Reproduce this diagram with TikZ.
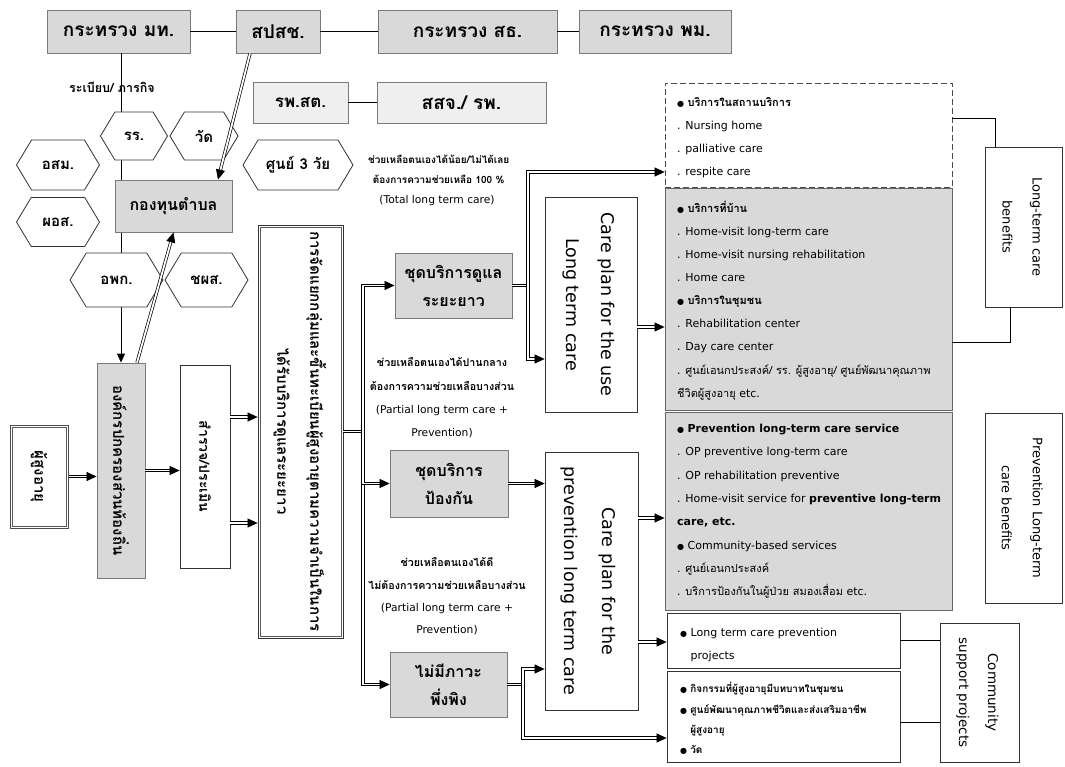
\documentclass[tikz,border=0pt]{standalone}
\usepackage{fontspec}
\usepackage{graphicx}
\setmainfont{DejaVu Sans}
\newfontfamily\thaifont[Script=Thai]{Loma}
\usetikzlibrary{arrows.meta,shapes.symbols,calc}
\definecolor{boxgray}{HTML}{D9D9D9}
\definecolor{boxlight}{HTML}{EFEFEF}
\definecolor{edgegray}{HTML}{7A7A7A}
\newcommand\fsz[2]{\fontsize{#1}{#2}\selectfont}
\newcommand\dotb{{\fontsize{8}{8}\selectfont ●}}
\newcommand\tb{\thaifont\bfseries}

\begin{document}
\begin{tikzpicture}[x=1pt,y=-1pt,
  sz/.style 2 args={minimum width=#1pt, minimum height=#2pt},
  box/.style={draw=edgegray, line width=0.9pt, inner sep=0pt, align=center},
  gbox/.style={box, fill=boxgray},
  lbox/.style={box, fill=boxlight},
  wbox/.style={draw=black!80, line width=0.8pt, fill=white, inner sep=0pt, align=center},
  inframe/.style={draw=gray!70!black, line width=0.8pt},
  hex/.style={signal, signal to=west and east, signal pointer angle=118,
    draw=black!80, line width=0.8pt, fill=white, inner sep=0pt,
    font=\tb\fsz{15}{18}},
  link/.style={draw=black, line width=0.9pt},
  dline/.style={draw=black, line width=0.7pt, double=white, double distance=1.8pt},
  darrow/.style={dline, -{Triangle[length=10pt,width=9pt]}},
  sarrow/.style={link, -{Triangle[length=9pt,width=8pt]}},
  list/.style={anchor=west, align=left, inner sep=0pt},
  note/.style={align=center, inner sep=0pt}
]
\useasboundingbox (0,0) rectangle (1065,767);
\fill[white] (0,0) rectangle (1065,767);

% ---- ministries and agencies ----
\node[gbox, sz={143}{43}, font=\tb\fsz{19}{22}] (mt) at (118.5,31.5) {กระทรวง มท.};
\node[gbox, sz={84}{43}, font=\tb\fsz{19}{22}] (nhso) at (278,31.5) {สปสช.};
\node[gbox, sz={179}{43}, font=\tb\fsz{19}{22}] (moph) at (467.5,31.5) {กระทรวง สธ.};
\node[gbox, sz={152}{43}, font=\tb\fsz{19}{22}] (msdhs) at (655,31.5) {กระทรวง พม.};
\node[lbox, sz={95}{41}, font=\tb\fsz{17}{20}] (rpst) at (300.5,102.5) {รพ.สต.};
\node[lbox, sz={169}{41}, font=\tb\fsz{19}{22}] (ssj) at (461.5,102.5) {สสจ./ รพ.};
\draw[link] (mt) -- (nhso);
\draw[link] (nhso) -- (moph);
\draw[link] (moph) -- (msdhs);
\draw[link] (rpst) -- (ssj);

% ---- local chain ----
\node[gbox, sz={48}{215}] (org) at (121,470.5)
  {\rotatebox{-90}{\tb\fsz{15}{18}องค์กรปกครองส่วนท้องถิ่น}};
\node[wbox, draw=gray!60!black, line width=1pt, sz={58}{103}] (elder) at (39,476.5)
  {\rotatebox{-90}{\tb\fsz{15}{18}ผู้สูงอายุ}};
\draw[inframe] ([xshift=2.6pt,yshift=-2.6pt]elder.north west) rectangle ([xshift=-2.6pt,yshift=2.6pt]elder.south east);
\node[wbox, sz={50}{203}] (survey) at (205,466.5)
  {\rotatebox{-90}{\tb\fsz{14}{18}สำรวจ/ประเมิน}};
\node[wbox, sz={85}{413}] (big) at (300.5,431.5)
  {\rotatebox{-90}{\tb\fsz{15}{33}\begin{tabular}{@{}c@{}}การจัดแยกกลุ่มและขึ้นทะเบียนผู้สูงอายุตามความจำเป็นในการ\\ได้รับบริการดูแลระยะยาว\end{tabular}}};
\draw[inframe] ([xshift=2.4pt,yshift=-2.4pt]big.north west) rectangle ([xshift=-2.4pt,yshift=2.4pt]big.south east);

\node[font=\tb\fsz{12.5}{14}] (rule) at (112,87) {ระเบียบ/ ภารกิจ};
\draw[sarrow] (mt.south -| org.north) -- (org.north);

% ---- community partners ----
\node[hex, sz={67}{48}] (rr) at (134,136) {รร.};
\node[hex, sz={68}{48}] (wat) at (204,136) {วัด};
\node[hex, sz={83}{50}] (osm) at (58,165) {อสม.};
\node[hex, sz={83}{49}] (pos) at (58,222) {ผอส.};
\node[hex, sz={93}{54}] (opk) at (116.5,280) {อพก.};
\node[hex, sz={83}{54}] (chps) at (206.5,280) {ชผส.};
\node[hex, sz={110}{50}] (c3) at (298,165) {ศูนย์ 3 วัย};
\node[gbox, sz={117}{52}, font=\tb\fsz{16}{18}] (fund) at (173.5,206) {กองทุนตำบล};

\draw[darrow] ([xshift=-28pt]nhso.south) -- ([xshift=44.5pt]fund.north);
\draw[darrow] ([xshift=16pt]org.north) -- (fund.south);

\draw[darrow] (elder.east) -- (elder.east -| org.west);
\draw[darrow] (org.east) -- (org.east -| survey.west);
\draw[darrow] ([yshift=49.5pt]survey.east) -- ([yshift=49.5pt]survey.east -| big.west);
\draw[darrow] ([yshift=-56.5pt]survey.east) -- ([yshift=-56.5pt]survey.east -| big.west);

% ---- service packages ----
\node[gbox, sz={117}{65}, font=\tb\fsz{16}{28}] (ltc) at (453.5,285.5) {ชุดบริการดูแล\\ระยะยาว};
\node[gbox, sz={118}{67}, font=\tb\fsz{16}{28}] (prev) at (449,483.5) {ชุดบริการ\\ป้องกัน};
\node[gbox, sz={117}{65}, font=\tb\fsz{16}{28}] (nodep) at (448.5,684.5) {ไม่มีภาวะ\\พึ่งพิง};

\node[note, font=\fsz{10.7}{20}] (n1) at (437,180)
  {{\tb\fsz{10}{20} ช่วยเหลือตนเองได้น้อย/ไม่ได้เลย}\\{\tb\fsz{10}{20} ต้องการความช่วยเหลือ 100 \%}\\(Total long term care)};
\node[note, font=\fsz{10.7}{23.4}] (n2) at (442,398)
  {{\tb ช่วยเหลือตนเองได้ปานกลาง}\\{\tb ต้องการความช่วยเหลือบางส่วน}\\(Partial long term care +\\Prevention)};
\node[note, font=\fsz{10.7}{22.4}] (n3) at (447,596.5)
  {{\tb ช่วยเหลือตนเองได้ดี}\\{\tb ไม่ต้องการความช่วยเหลือบางส่วน}\\(Partial long term care +\\Prevention)};

\coordinate (tk) at (363,431.5);
\draw[dline] (big.east) -- (tk);
\draw[darrow] (tk) |- (ltc.west);
\draw[darrow] (tk) |- (nodep.west);
\draw[darrow] (tk) |- (prev.west);

% ---- care plans ----
\node[wbox, sz={92}{215}] (cp1) at (591,304.5)
  {\rotatebox{-90}{\fsz{17.5}{35}\begin{tabular}{@{}c@{}}Care plan for the use\\Long term care\end{tabular}}};
\node[wbox, sz={93}{258}] (cp2) at (591.5,581)
  {\rotatebox{-90}{\fsz{17.5}{38}\begin{tabular}{@{}c@{}}Care plan for the\\prevention long term care\end{tabular}}};

% ---- service lists ----
\node[draw=black!70, dash pattern=on 6pt off 3pt, line width=0.8pt, fill=white, sz={287}{104}] (svc) at (808.5,135) {};
\node[gbox, draw=black!60, sz={287}{222}] (g1) at (808.5,299) {};
\node[gbox, draw=black!60, sz={287}{198}] (g2) at (808.5,511) {};
\node[wbox, sz={233}{55}] (pj) at (783.5,640.5) {};
\node[wbox, sz={233}{91}] (th) at (783.5,716.5) {};

\node[list, font=\fsz{11}{23}] (svct) at (677,137.5)
  {\dotb\ {\tb บริการในสถานบริการ}\\. Nursing home\\. palliative care\\. respite care};
\node[list, font=\fsz{11}{23.1}] (g1t) at (677,300.5)
  {\dotb\ {\tb บริการที่บ้าน}\\. Home-visit long-term care\\. Home-visit nursing rehabilitation\\. Home care\\
   \dotb\ {\tb บริการในชุมชน}\\. Rehabilitation center\\. Day care center\\
   . {\thaifont ศูนย์เอนกประสงค์/ รร. ผู้สูงอายุ/ ศูนย์พัฒนาคุณภาพ}\\{\thaifont ชีวิตผู้สูงอายุ} etc.};
\node[list, font=\fsz{11}{23.3}] (g2t) at (677,511.5)
  {\dotb\ \textbf{Prevention long-term care service}\\. OP preventive long-term care\\. OP rehabilitation preventive\\
   . Home-visit service for \textbf{preventive long-term}\\\textbf{care, etc.}\\\dotb\ Community-based services\\
   . {\thaifont ศูนย์เอนกประสงค์}\\. {\thaifont บริการป้องกันในผู้ป่วย สมองเสื่อม} etc.};
\node[list, font=\fsz{11}{23}] (pjt) at (680,644.5)
  {\dotb\ Long term care prevention\\\phantom{\dotb\ }projects};
\node[list, font=\fsz{10}{20.3}] (tht) at (680,718.5)
  {\dotb\ {\tb กิจกรรมที่ผู้สูงอายุมีบทบาทในชุมชน}\\\dotb\ {\tb ศูนย์พัฒนาคุณภาพชีวิตและส่งเสริมอาชีพ}\\
   \phantom{\dotb\ }{\tb ผู้สูงอายุ}\\\dotb\ {\tb วัด}};

% ---- benefit groups ----
\node[wbox, sz={77}{160}] (ben1) at (1023.5,227)
  {\rotatebox{-90}{\fsz{13}{30}\begin{tabular}{@{}c@{}}Long-term care\\benefits\end{tabular}}};
\node[wbox, sz={77}{190}] (ben2) at (1023.5,508)
  {\rotatebox{-90}{\fsz{13}{31}\begin{tabular}{@{}c@{}}Prevention Long-term\\care benefits\end{tabular}}};
\node[wbox, sz={79}{139}] (comm) at (979.5,692.5)
  {\rotatebox{-90}{\fsz{13.5}{29}\begin{tabular}{@{}c@{}}Community\\support projects\end{tabular}}};

% ---- flows into the care plans ----
\coordinate (ua) at (528,285.5);
\draw[dline] (ltc.east) -- (ua);
\draw[darrow] (ua) |- ([yshift=-37pt]svc.west);
\draw[darrow] (ua) |- ([yshift=-54.5pt]cp1.west);
\draw[darrow] (prev.east) -- (prev.east -| cp2.west);
\coordinate (va) at (523,684.5);
\draw[dline] (nodep.east) -- (va);
\draw[darrow] (va) |- ([yshift=-88pt]cp2.west);
\draw[darrow] (va) |- ([yshift=-21.5pt]th.west);

\draw[darrow] ([yshift=-22.5pt]cp1.east) -- ([yshift=-22.5pt]cp1.east -| g1.west);
\draw[darrow] ([yshift=63pt]cp2.east) -- ([yshift=63pt]cp2.east -| g2.west);
\draw[darrow] ([yshift=-61pt]cp2.east) -- ([yshift=-61pt]cp2.east -| pj.west);

\draw[link] ([yshift=17pt]svc.east) -| ([xshift=-28.5pt]ben1.north);
\draw[link] ([yshift=-43pt]g1.east) -| ([xshift=-13.5pt]ben1.south);
\draw[link] (pj.east) -- (pj.east -| comm.west);
\draw[link] ([yshift=-5.5pt]th.east) -- ([yshift=-5.5pt]th.east -| comm.west);
\end{tikzpicture}
\end{document}
